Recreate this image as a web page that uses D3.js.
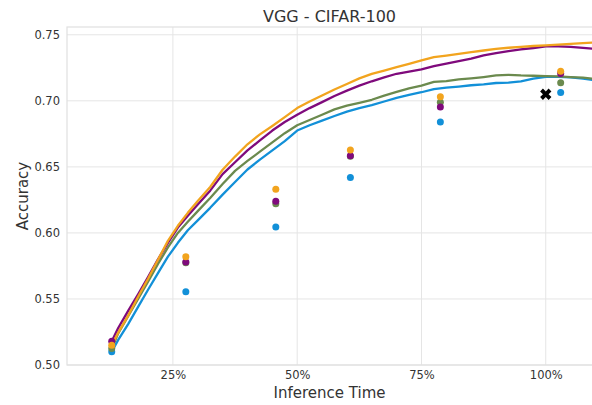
<!DOCTYPE html>
<html>
<head>
<meta charset="utf-8">
<script src="https://cdn.jsdelivr.net/npm/d3@7"></script>
<style>
	body { margin: 0; background: #fff; }
	text { font-family: 'DejaVu Sans', sans-serif; fill: #333; }
</style>
</head>
<body>
<div class="chart"></div>
<script>
// inference time (% of full model) for the curves
const curveTimes = [12.7, 14, 16, 18, 20, 22, 24, 26, 28, 30, 32.5, 35, 37.5, 40, 42.5, 45, 47.5, 50,
	52.5, 55, 57.5, 60, 62.5, 65, 67.5, 70, 72.5, 75, 77.5, 80, 82.5, 85, 87.5, 90, 92.5, 95,
	97.5, 100, 102.5, 105, 107.5, 110]

const orangeCurve = [0.5150, 0.5245, 0.5374, 0.5517, 0.5653, 0.5797, 0.5940, 0.6054, 0.6152, 0.6242,
	0.6348, 0.6478, 0.6578, 0.6671, 0.6746, 0.6810, 0.6877, 0.6945, 0.6995, 0.7041, 0.7086, 0.7128,
	0.7170, 0.7204, 0.7229, 0.7255, 0.7280, 0.7306, 0.7331, 0.7343, 0.7356, 0.7368, 0.7381, 0.7394,
	0.7402, 0.7409, 0.7415, 0.7420, 0.7426, 0.7432, 0.7437, 0.7442]
const purpleCurve = [0.5180, 0.5280, 0.5410, 0.5535, 0.5665, 0.5800, 0.5925, 0.6040, 0.6130, 0.6215,
	0.6320, 0.6445, 0.6535, 0.6625, 0.6700, 0.6775, 0.6840, 0.6895, 0.6945, 0.6990, 0.7037, 0.7077,
	0.7115, 0.7148, 0.7178, 0.7205, 0.7222, 0.7238, 0.7262, 0.7282, 0.7300, 0.7320, 0.7345, 0.7362,
	0.7376, 0.7390, 0.7400, 0.7412, 0.7412, 0.7408, 0.7401, 0.7393]
const greenCurve = [0.5125, 0.5240, 0.5370, 0.5500, 0.5630, 0.5765, 0.5890, 0.6000, 0.6085, 0.6165,
	0.6265, 0.6370, 0.6470, 0.6545, 0.6615, 0.6685, 0.6755, 0.6815, 0.6855, 0.6895, 0.6935, 0.6963,
	0.6985, 0.7008, 0.7040, 0.7068, 0.7095, 0.7115, 0.7143, 0.7150, 0.7162, 0.7170, 0.7180, 0.7192,
	0.7197, 0.7192, 0.7190, 0.7187, 0.7185, 0.7180, 0.7175, 0.7165]
const blueCurve = [0.5100, 0.5190, 0.5310, 0.5440, 0.5570, 0.5695, 0.5820, 0.5925, 0.6020, 0.6095,
	0.6190, 0.6290, 0.6385, 0.6480, 0.6555, 0.6625, 0.6695, 0.6775, 0.6815, 0.6850, 0.6885, 0.6918,
	0.6945, 0.6968, 0.6995, 0.7022, 0.7045, 0.7065, 0.7088, 0.7100, 0.7108, 0.7118, 0.7125, 0.7135,
	0.7138, 0.7148, 0.7168, 0.7182, 0.7182, 0.7178, 0.7168, 0.7155]

// single evaluations
const dotTimes = [12.7, 27.6, 45.7, 60.7, 78.8, 103.0]
const orangeDots = [0.5150, 0.5820, 0.6330, 0.6628, 0.7030, 0.7224]
const purpleDots = [0.5180, 0.5780, 0.6240, 0.6585, 0.6953, 0.7207]
const greenDots = [0.5125, 0.5775, 0.6220, 0.6580, 0.6990, 0.7136]
const blueDots = [0.5100, 0.5555, 0.6044, 0.6420, 0.6840, 0.7063]

// full model reference
const baseTime = [100]
const baseAcc = [0.705]

const xTicks = [25, 50, 75, 100]
const yTicks = [0.50, 0.55, 0.60, 0.65, 0.70, 0.75]

const colors = { orange: '#f2a41e', purple: '#7f0a7c', green: '#6b8a4e', blue: '#1290d8' }

const W = 592, H = 405
const margin = ({ top: 27, right: 0, bottom: 40, left: 67 })
const width = W - margin.left - margin.right
const height = H - margin.top - margin.bottom

const svg = d3.select('.chart')
	.append('svg')
	.attr('width', W)
	.attr('height', H)

const g = svg.append('g')
	.attr('transform', `translate(${margin.left},${margin.top})`)

const xScale = d3.scaleLinear()
	.domain([3.7, 109.3])
	.range([0, width])

const yScale = d3.scaleLinear()
	.domain([0.5, 0.7559])
	.range([height, 0])

// grid
g.append('g')
	.selectAll('line')
	.data(yTicks)
	.join('line')
	.attr('x1', 0).attr('x2', width)
	.attr('y1', d => yScale(d)).attr('y2', d => yScale(d))
	.attr('stroke', '#e5e5e5')

g.append('g')
	.selectAll('line')
	.data(xTicks)
	.join('line')
	.attr('y1', 0).attr('y2', height)
	.attr('x1', d => xScale(d)).attr('x2', d => xScale(d))
	.attr('stroke', '#e5e5e5')

g.append('rect')
	.attr('width', width + 2)
	.attr('height', height)
	.attr('fill', 'none')
	.attr('stroke', '#e0e0e0')
	.attr('stroke-width', 1.2)

// axes
const xAxis = d3.axisBottom(xScale).tickValues(xTicks).tickFormat(d => d + '%').tickSize(0).tickPadding(6)
const yAxis = d3.axisLeft(yScale).tickValues(yTicks).tickFormat(d3.format('.2f')).tickSize(0).tickPadding(7)

g.append('g')
	.attr('transform', `translate(0,${height})`)
	.call(xAxis)
	.call(a => a.select('.domain').remove())
	.selectAll('text')
	.attr('font-size', 11.5)
	.attr('fill', '#333')

g.append('g')
	.call(yAxis)
	.call(a => a.select('.domain').remove())
	.selectAll('text')
	.attr('font-size', 11.5)
	.attr('fill', '#333')

g.selectAll('.tick text').style('font-family', "'DejaVu Sans', sans-serif")

// curves
g.append('clipPath').attr('id', 'clip')
	.append('rect').attr('width', width).attr('height', height)

const line = d3.line()
	.x(d => xScale(d[0]))
	.y(d => yScale(d[1]))

const curves = [
	[blueCurve, colors.blue],
	[greenCurve, colors.green],
	[purpleCurve, colors.purple],
	[orangeCurve, colors.orange]
]

curves.forEach(([vals, c]) => {
	g.append('path')
		.datum(d3.zip(curveTimes, vals))
		.attr('clip-path', 'url(#clip)')
		.attr('fill', 'none')
		.attr('stroke', c)
		.attr('stroke-width', 2.3)
		.attr('stroke-linejoin', 'round')
		.attr('d', line)
})

// dots
const dots = [
	[blueDots, colors.blue],
	[greenDots, colors.green],
	[purpleDots, colors.purple],
	[orangeDots, colors.orange]
]

dots.forEach(([vals, c]) => {
	g.append('g')
		.selectAll('circle')
		.data(d3.zip(dotTimes, vals))
		.join('circle')
		.attr('cx', d => xScale(d[0]))
		.attr('cy', d => yScale(d[1]))
		.attr('r', 3.5)
		.attr('fill', c)
})

g.append('g')
	.selectAll('path')
	.data(d3.zip(baseTime, baseAcc))
	.join('path')
	.attr('transform', d => `translate(${xScale(d[0])},${yScale(d[1])}) rotate(45)`)
	.attr('d', d3.symbol(d3.symbolCross, 80))
	.attr('fill', '#000')

// labels
svg.append('text')
	.attr('x', margin.left + width / 2)
	.attr('y', 22)
	.attr('text-anchor', 'middle')
	.attr('font-size', 16)
	.text('VGG - CIFAR-100')

svg.append('text')
	.attr('x', margin.left + width / 2)
	.attr('y', 398)
	.attr('text-anchor', 'middle')
	.attr('font-size', 15)
	.text('Inference Time')

svg.append('text')
	.attr('transform', `translate(28,${margin.top + height / 2}) rotate(-90)`)
	.attr('text-anchor', 'middle')
	.attr('font-size', 15)
	.text('Accuracy')
</script>
</body>
</html>
